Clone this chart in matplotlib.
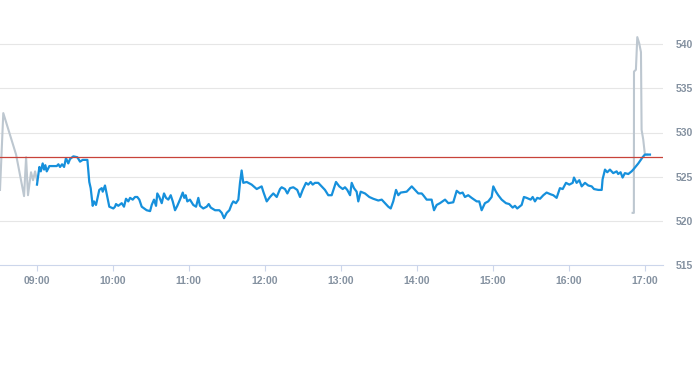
"""Intraday price line — regular session (blue) plus pre/after-hours (gray)"""
import matplotlib
matplotlib.use('Agg')
import matplotlib.pyplot as plt

# minutes after midnight / price
pre_t = [511.0, 513.6, 523.7, 530.0, 531.6, 533.1, 535.5, 537.1, 538.7, 540.2]
pre_p = [523.5, 532.2, 527.5, 522.8, 527.2, 522.9, 525.5, 524.6, 525.6, 524.6]

sess_t = [540.2, 542.1, 543.2, 544.7, 545.8, 546.8, 547.9, 550.0, 555.8, 557.1,
          558.4, 560.0, 561.6, 563.1, 564.9, 566.3, 568.9, 572.1, 574.2, 576.3,
          580.0, 581.5, 582.6, 584.2, 585.2, 586.8, 588.2, 589.4, 591.3, 592.1,
          593.9, 595.7, 597.3, 600.5, 601.8, 602.6, 604.4, 607.1, 608.9, 610.5,
          612.3, 613.7, 615.8, 617.6, 619.4, 621.0, 622.9, 626.8, 629.5, 630.8,
          632.6, 634.2, 635.2, 636.8, 638.7, 640.5, 642.1, 643.9, 645.8, 647.4,
          649.2, 651.0, 653.1, 655.3, 656.5, 657.6, 658.9, 661.0, 663.6, 665.8,
          667.6, 668.9, 671.5, 674.2, 675.8, 677.4, 680.8, 684.2, 686.1, 687.9,
          690.0, 692.1, 694.0, 695.2, 697.3, 699.2, 700.5, 701.8, 703.1, 705.8,
          709.7, 713.7, 717.6, 718.9, 721.6, 724.2, 726.8, 729.5, 732.1, 733.4,
          736.0, 737.9, 740.0, 742.6, 745.7, 747.9, 750.0, 752.6, 754.4, 756.3,
          757.9, 759.7, 762.3, 765.0, 767.6, 770.2, 772.9, 776.3, 778.9, 781.6,
          783.4, 785.2, 787.4, 788.7, 790.5, 792.6, 793.9, 795.8, 799.2, 802.6,
          805.7, 809.7, 812.4, 815.0, 817.6, 819.5, 821.5, 823.7, 825.5, 827.4,
          832.1, 836.1, 838.7, 841.3, 844.0, 845.2, 847.9, 851.8, 853.7, 855.8,
          858.4, 862.4, 865.0, 868.9, 871.6, 874.2, 876.3, 878.1, 880.7, 883.4,
          887.4, 889.4, 891.3, 893.9, 896.5, 899.2, 900.5, 902.6, 904.4, 907.1,
          910.5, 913.1, 915.8, 917.6, 919.4, 922.9, 924.7, 926.8, 930.0, 931.6,
          933.4, 935.2, 937.4, 940.0, 942.6, 945.8, 947.9, 950.5, 953.1, 955.3,
          957.9, 960.5, 963.2, 964.2, 966.3, 968.4, 970.3, 972.9, 975.5, 978.2,
          980.0, 983.4, 986.1, 986.8, 988.7, 990.5, 992.6, 995.2, 997.9, 999.1,
          1001.0, 1002.6, 1004.4, 1007.1, 1009.7, 1011.0, 1015.0, 1018.4, 1020.2, 1024.2]
sess_p = [524.1, 526.1, 525.6, 526.5, 525.8, 526.3, 525.6, 526.2, 526.2, 526.4,
          526.1, 526.4, 526.1, 527.1, 526.5, 527.0, 527.3, 527.2, 526.7, 526.9,
          526.9, 524.4, 523.7, 521.7, 522.2, 521.8, 522.7, 523.5, 523.7, 523.3,
          524.0, 522.7, 521.6, 521.4, 521.6, 521.9, 521.7, 522.0, 521.6, 522.5,
          522.2, 522.6, 522.4, 522.7, 522.7, 522.4, 521.6, 521.2, 521.1, 521.8,
          522.4, 521.7, 523.1, 522.7, 522.0, 523.1, 522.6, 522.4, 522.9, 522.2,
          521.2, 521.7, 522.4, 523.2, 522.6, 522.9, 522.2, 522.4, 521.8, 521.6,
          522.6, 521.7, 521.4, 521.6, 521.9, 521.5, 521.2, 521.2, 520.9, 520.3,
          520.9, 521.2, 521.9, 522.2, 522.0, 522.4, 524.3, 525.7, 524.3, 524.4,
          524.1, 523.6, 523.9, 523.3, 522.2, 522.7, 523.1, 522.7, 523.6, 523.8,
          523.6, 523.1, 523.7, 523.8, 523.5, 522.7, 523.5, 524.3, 524.1, 524.4,
          524.1, 524.3, 524.3, 523.9, 523.5, 522.9, 522.9, 524.4, 523.9, 523.6,
          523.8, 523.5, 522.9, 524.3, 523.7, 523.3, 522.2, 523.3, 523.1, 522.7,
          522.5, 522.3, 522.4, 522.0, 521.6, 521.4, 522.2, 523.5, 522.9, 523.2,
          523.3, 523.9, 523.5, 523.1, 523.1, 522.9, 522.4, 522.4, 521.2, 521.8,
          522.0, 522.4, 522.0, 522.1, 523.4, 523.1, 523.2, 522.7, 522.9, 522.6,
          522.2, 522.2, 521.2, 522.0, 522.2, 522.7, 523.9, 523.3, 522.9, 522.4,
          522.0, 521.9, 521.5, 521.7, 521.4, 521.8, 522.7, 522.6, 522.4, 522.7,
          522.2, 522.6, 522.5, 522.9, 523.2, 523.0, 522.9, 522.6, 523.7, 523.6,
          524.3, 524.1, 524.3, 524.9, 524.3, 524.6, 523.9, 524.3, 524.0, 523.9,
          523.6, 523.5, 523.5, 524.7, 525.8, 525.5, 525.8, 525.4, 525.6, 525.3,
          525.5, 524.9, 525.4, 525.3, 525.6, 525.8, 526.5, 527.2, 527.5, 527.5]

post_t = [1010.5, 1011.5, 1011.6, 1013.1, 1014.2, 1015.7, 1017.1, 1017.6, 1018.9, 1020.2, 1022.0]
post_p = [520.9, 520.9, 536.9, 537.1, 540.8, 540.1, 539.1, 530.3, 529.2, 527.5, 527.5]

prev_close = 527.2
x_ticks = [540, 600, 660, 720, 780, 840, 900, 960, 1020]
x_labels = ['09:00', '10:00', '11:00', '12:00', '13:00', '14:00', '15:00', '16:00', '17:00']
y_ticks = [515, 520, 525, 530, 535, 540]

LABEL = '#8491a0'
AXIS = '#ccd6eb'

fig = plt.figure(figsize=(6.93, 3.65), dpi=100)
ax = fig.add_axes([0, 1 - 265 / 365, 663 / 693, 265 / 365])

for y in y_ticks[1:]:
    ax.axhline(y, color='#e6e6e6', linewidth=0.8, zorder=0)

ax.plot(pre_t, pre_p, color='#bdc7d0', linewidth=1.5, zorder=2)
ax.plot(post_t, post_p, color='#bdc7d0', linewidth=1.5, zorder=2)
ax.plot(sess_t, sess_p, color='#1690dc', linewidth=1.6, zorder=3)
ax.axhline(prev_close, color='#c8433a', linewidth=0.9, zorder=4)

ax.set_xlim(511.0, 1034.5)
ax.set_ylim(515, 545)

for s in ['top', 'left', 'right']:
    ax.spines[s].set_visible(False)
ax.spines['bottom'].set_color(AXIS)
ax.spines['bottom'].set_linewidth(0.8)

ax.set_xticks(x_ticks)
ax.set_xticklabels(x_labels)
ax.tick_params(axis='x', length=4, width=0.8, color=AXIS, pad=4,
               labelsize=7.5, labelcolor=LABEL)
ax.yaxis.tick_right()
ax.set_yticks(y_ticks)
ax.tick_params(axis='y', length=0, pad=9, labelsize=7.5, labelcolor=LABEL)
for lab in ax.get_xticklabels() + ax.get_yticklabels():
    lab.set_fontfamily('Liberation Sans')
    lab.set_fontweight('bold')

fig.savefig('out.png', dpi=100)
plt.close(fig)
